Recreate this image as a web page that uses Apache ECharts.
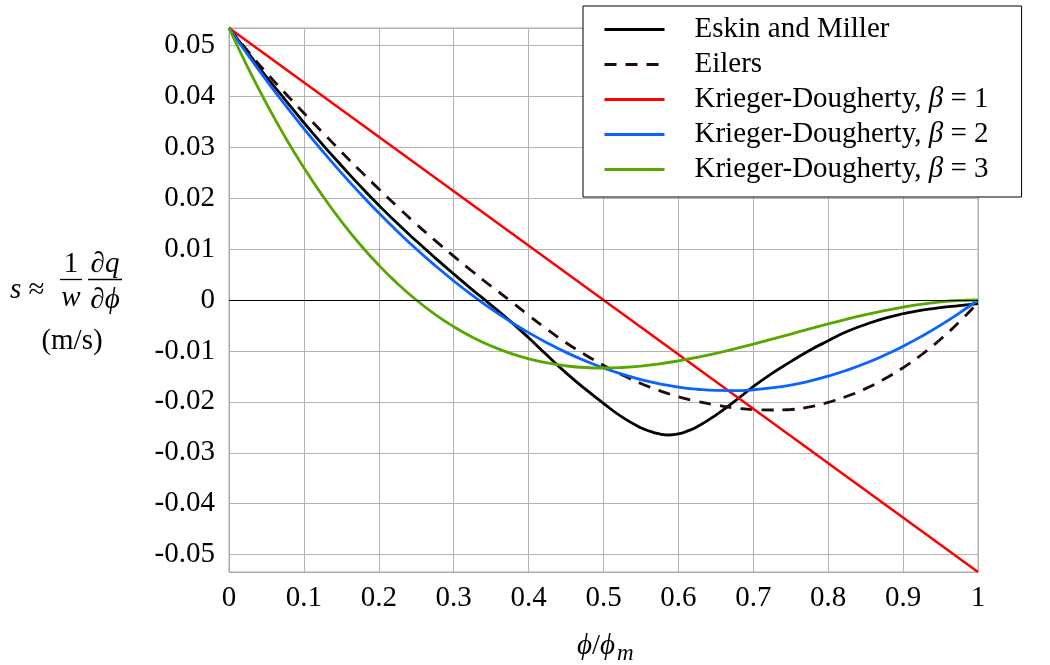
<!DOCTYPE html>
<html>
<head>
<meta charset="utf-8">
<script src="https://cdn.jsdelivr.net/npm/echarts@6/dist/echarts.min.js"></script>
<style>
  html, body { margin: 0; padding: 0; background: #fff; }
  #chart { width: 1050px; height: 665px; }
</style>
</head>
<body>
<div id="chart"></div>
<script>
// Volume fraction phi/phi_m sampled every 0.025
const phiRatio = [0, 0.025, 0.05, 0.075, 0.1, 0.125, 0.15, 0.175, 0.2, 0.225,
  0.25, 0.275, 0.3, 0.325, 0.35, 0.375, 0.4, 0.425, 0.45, 0.475,
  0.5, 0.525, 0.55, 0.575, 0.6, 0.625, 0.65, 0.675, 0.7, 0.725,
  0.75, 0.775, 0.8, 0.825, 0.85, 0.875, 0.9, 0.925, 0.95, 0.975, 1];

// Eskin and Miller is sampled more finely around its minimum
const eskinMillerX = [0, 0.025, 0.05, 0.075, 0.1, 0.125, 0.15, 0.175, 0.2, 0.225,
  0.25, 0.275, 0.3, 0.325, 0.35, 0.375, 0.4, 0.425, 0.45, 0.475,
  0.5, 0.525, 0.55, 0.5625, 0.575, 0.5875, 0.6, 0.6125, 0.625, 0.65, 0.675, 0.7, 0.725,
  0.75, 0.775, 0.8, 0.825, 0.85, 0.875, 0.9, 0.925, 0.95, 0.975, 1];

// Settling speed s (m/s) for each model
const eskinMiller = [0.0534, 0.0486, 0.0438, 0.0393, 0.0348, 0.0305, 0.0264, 0.0224, 0.0186, 0.0150,
  0.0116, 0.0083, 0.0051, 0.0020, -0.0010, -0.0041, -0.0074, -0.0109, -0.0143, -0.0174,
  -0.0203, -0.0230, -0.0251, -0.0258, -0.0263, -0.0265, -0.0263, -0.0257, -0.0249, -0.0226, -0.0199, -0.0170, -0.0144,
  -0.0121, -0.0099, -0.0080, -0.0062, -0.0048, -0.0036, -0.0027, -0.0020, -0.0015, -0.0011, -0.0007];

const eilers = [0.0534, 0.0489, 0.0446, 0.0406, 0.0367, 0.0329, 0.0291, 0.0254, 0.0218, 0.0183,
  0.0149, 0.0117, 0.0086, 0.0056, 0.0027, -0.0001, -0.0030, -0.0058, -0.0084, -0.0107,
  -0.0128, -0.0147, -0.0164, -0.0178, -0.0190, -0.0199, -0.0206, -0.0212, -0.0215, -0.0216,
  -0.0215, -0.0210, -0.0201, -0.0189, -0.0174, -0.0155, -0.0133, -0.0107, -0.0077, -0.0043, -0.0005];

const kdBeta1X = [0, 1];
const kdBeta1 = [0.0534, -0.0534];

const kdBeta2 = [0.0534, 0.04816, 0.04312, 0.03828, 0.03364, 0.02920, 0.02496, 0.02093, 0.01709, 0.01345,
  0.01001, 0.00678, 0.00374, 0.00090, -0.00174, -0.00417, -0.00641, -0.00844, -0.01028, -0.01191,
  -0.01335, -0.01458, -0.01562, -0.01645, -0.01709, -0.01752, -0.01776, -0.01779, -0.01762, -0.01725,
  -0.01669, -0.01592, -0.01495, -0.01378, -0.01242, -0.01085, -0.00908, -0.00711, -0.00494, -0.00257, 0];

const kdBeta3 = [0.0534, 0.04569, 0.03855, 0.03198, 0.02595, 0.02044, 0.01543, 0.01090, 0.00684, 0.00321,
  0, -0.00281, -0.00523, -0.00730, -0.00902, -0.01043, -0.01153, -0.01236, -0.01292, -0.01325,
  -0.01335, -0.01325, -0.01298, -0.01254, -0.01196, -0.01126, -0.01047, -0.00959, -0.00865, -0.00767,
  -0.00668, -0.00568, -0.00470, -0.00376, -0.00288, -0.00209, -0.00139, -0.00081, -0.00037, -0.00010, 0];

const seriesNames = ['Eskin and Miller', 'Eilers',
  'Krieger-Dougherty, β = 1', 'Krieger-Dougherty, β = 2', 'Krieger-Dougherty, β = 3'];

const yRange = [-0.0534, 0.0534];

const FONT = '"Liberation Serif", "Times New Roman", "DejaVu Serif", serif';
const FS = 29;
const GRID_COLOR = '#b3b3b3';

const pairs = (xs, ys) => xs.map((x, i) => [x, ys[i]]);

function curve(name, xs, ys, color, width, dash, extra) {
  return Object.assign({
    name: name,
    type: 'line',
    data: pairs(xs, ys),
    symbol: 'none',
    smooth: 0.5,
    smoothConstraint: false,
    lineStyle: { color: color, width: width, type: dash || 'solid' },
    itemStyle: { color: color },
    emphasis: { disabled: true }
  }, extra || {});
}

const chart = echarts.init(document.getElementById('chart'), null, { renderer: 'canvas' });

chart.setOption({
  animation: false,
  backgroundColor: '#fff',
  grid: {
    left: 229, top: 28, width: 749, height: 544,
    show: true, borderColor: '#aaa', borderWidth: 1, backgroundColor: 'transparent'
  },
  xAxis: {
    type: 'value', min: 0, max: 1, interval: 0.1,
    axisLine: { show: true, onZero: false, lineStyle: { color: '#aaa', width: 1 } },
    axisTick: { show: false },
    splitLine: { show: true, lineStyle: { color: GRID_COLOR, width: 1 } },
    axisLabel: {
      color: '#000', fontFamily: FONT, fontSize: FS, margin: 12,
      formatter: v => String(Math.round(v * 10) / 10)
    }
  },
  yAxis: {
    type: 'value', min: yRange[0], max: yRange[1],
    splitNumber: 10, minInterval: 0.01, maxInterval: 0.01,
    axisLine: { show: true, onZero: false, lineStyle: { color: '#aaa', width: 1 } },
    axisTick: { show: false },
    splitLine: { show: true, lineStyle: { color: GRID_COLOR, width: 1 } },
    axisLabel: {
      color: '#000', fontFamily: FONT, fontSize: FS, margin: 14,
      showMinLabel: false, showMaxLabel: false,
      formatter: v => {
        const k = Math.round(v * 100);
        if (Math.abs(v * 100 - k) > 1e-6) return '';
        return k === 0 ? '0' : (k / 100).toFixed(2);
      }
    }
  },
  legend: {
    orient: 'vertical',
    left: 583, top: 6,
    padding: [9, 33, 13, 20],
    itemGap: 6,
    itemWidth: 60, itemHeight: 2,
    itemStyle: { opacity: 0 },
    lineStyle: { width: 3 },
    backgroundColor: '#fff',
    borderColor: '#000', borderWidth: 1, borderRadius: 0,
    data: seriesNames,
    selectedMode: false,
    formatter: name => name.replace('β', '{i|β}'),
    textStyle: {
      color: '#000', fontFamily: FONT, fontSize: FS, lineHeight: 29,
      padding: [0, 0, 0, 25],
      rich: { i: { fontFamily: FONT, fontSize: FS, fontStyle: 'italic', color: '#000' } }
    }
  },
  series: [
    curve(seriesNames[0], eskinMillerX, eskinMiller, '#000000', 2.8, 'solid', {
      markLine: {
        silent: true, symbol: 'none', animation: false,
        label: { show: false },
        lineStyle: { color: '#000', width: 1, type: 'solid' },
        data: [{ yAxis: 0 }]
      }
    }),
    curve(seriesNames[1], phiRatio, eilers, '#200a0a', 2.8, [12, 9]),
    curve(seriesNames[2], kdBeta1X, kdBeta1, '#ff0000', 2.5),
    curve(seriesNames[3], phiRatio, kdBeta2, '#0a62ff', 2.8),
    curve(seriesNames[4], phiRatio, kdBeta3, '#58a600', 2.8)
  ],
  graphic: [
    { type: 'text', x: 10, y: 290, style: { text: '{i|s} ≈', fill: '#000', fontFamily: FONT, fontSize: FS, verticalAlign: 'middle',
      rich: { i: { fontFamily: FONT, fontSize: FS, fontStyle: 'italic' } } } },
    { type: 'text', x: 71, y: 264, style: { text: '1', fill: '#000', fontFamily: FONT, fontSize: FS, align: 'center', verticalAlign: 'middle' } },
    { type: 'line', shape: { x1: 60, y1: 279.5, x2: 82, y2: 279.5 }, style: { stroke: '#000', lineWidth: 1.3 } },
    { type: 'text', x: 71, y: 298, style: { text: 'w', fill: '#000', fontFamily: FONT, fontSize: FS, fontStyle: 'italic', align: 'center', verticalAlign: 'middle' } },
    { type: 'text', x: 105, y: 264, style: { text: '∂q', fill: '#000', fontFamily: FONT, fontSize: FS, fontStyle: 'italic', align: 'center', verticalAlign: 'middle' } },
    { type: 'line', shape: { x1: 88, y1: 279.5, x2: 122, y2: 279.5 }, style: { stroke: '#000', lineWidth: 1.3 } },
    { type: 'text', x: 105, y: 300, style: { text: '∂ϕ', fill: '#000', fontFamily: FONT, fontSize: FS, fontStyle: 'italic', align: 'center', verticalAlign: 'middle' } },
    { type: 'text', x: 72, y: 341, style: { text: '(m/s)', fill: '#000', fontFamily: FONT, fontSize: FS, align: 'center', verticalAlign: 'middle' } },
    { type: 'text', x: 596, y: 646, style: { text: '{i|ϕ}/{i|ϕ}', fill: '#000', fontFamily: FONT, fontSize: FS, align: 'center', verticalAlign: 'middle',
      rich: { i: { fontFamily: FONT, fontSize: FS, fontStyle: 'italic' } } } },
    { type: 'text', x: 617, y: 654, style: { text: 'm', fill: '#000', fontFamily: FONT, fontSize: 23, fontStyle: 'italic', align: 'left', verticalAlign: 'middle' } }
  ]
});
</script>
</body>
</html>
